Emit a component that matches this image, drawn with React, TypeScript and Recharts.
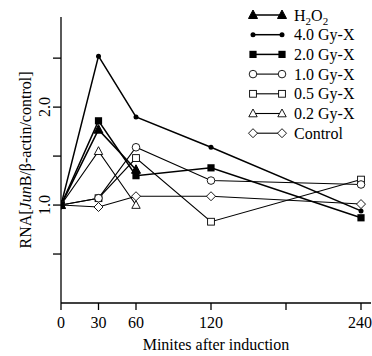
import React from "react"
import { Label, Legend, Line, LineChart, XAxis, YAxis } from "recharts"

// minutes after induction
const minutes = [0, 30, 60, 120, 240]

// RNA [JunB / beta-actin / control]
const h2o2 = [1.0, 1.77, 1.36, null, null]
const gy40 = [1.0, 2.52, 1.9, 1.59, 0.94]
const gy20 = [1.0, 1.86, 1.3, 1.38, 0.87]
const gy10 = [1.0, 1.07, 1.59, 1.25, 1.21]
const gy05 = [1.0, 1.07, 1.48, 0.83, 1.26]
const gy02 = [1.0, 1.55, 1.0, null, null]
const control = [1.0, 0.98, 1.09, 1.09, 1.01]

const xTicks = [0, 30, 60, 120, 180, 240]
const xLabels = ["0", "30", "60", "120", "", "240"]
const yTicks = [0.5, 1.0, 1.5, 2.0, 2.5]
const yLabels = ["", "1.0", "", "2.0", ""]

const FONT = "'Liberation Serif', 'Times New Roman', serif"

const data = minutes.map((m, i) => ({
  m,
  h2o2: h2o2[i],
  gy40: gy40[i],
  gy20: gy20[i],
  gy10: gy10[i],
  gy05: gy05[i],
  gy02: gy02[i],
  control: control[i],
}))

type Shape = "triFill" | "dot" | "sqFill" | "circ" | "sq" | "tri" | "diamond"

function Marker({ shape, cx, cy }: { shape: Shape; cx: number; cy: number }) {
  switch (shape) {
    case "triFill":
      return <polygon points={`${cx},${cy - 5} ${cx - 4.5},${cy + 3.5} ${cx + 4.5},${cy + 3.5}`} fill="#000" stroke="#000" />
    case "dot":
      return <circle cx={cx} cy={cy} r={2.5} fill="#000" />
    case "sqFill":
      return <rect x={cx - 3.6} y={cy - 3.6} width={7.2} height={7.2} fill="#000" />
    case "circ":
      return <circle cx={cx} cy={cy} r={3.8} fill="#fff" stroke="#000" strokeWidth={0.9} />
    case "sq":
      return <rect x={cx - 3.4} y={cy - 3.4} width={6.8} height={6.8} fill="#fff" stroke="#000" strokeWidth={0.9} />
    case "tri":
      return <polygon points={`${cx},${cy - 4.5} ${cx - 4.2},${cy + 3.3} ${cx + 4.2},${cy + 3.3}`} fill="#fff" stroke="#000" strokeWidth={0.9} />
    case "diamond":
      return <polygon points={`${cx},${cy - 4.5} ${cx + 4.5},${cy} ${cx},${cy + 4.5} ${cx - 4.5},${cy}`} fill="#fff" stroke="#000" strokeWidth={0.9} />
  }
  return null
}

const series: { key: string; shape: Shape; width: number; name: string }[] = [
  { key: "control", shape: "diamond", width: 1.1, name: "Control" },
  { key: "gy02", shape: "tri", width: 1.1, name: "0.2 Gy-X" },
  { key: "gy05", shape: "sq", width: 1.1, name: "0.5 Gy-X" },
  { key: "gy10", shape: "circ", width: 1.1, name: "1.0 Gy-X" },
  { key: "gy20", shape: "sqFill", width: 1.5, name: "2.0 Gy-X" },
  { key: "gy40", shape: "dot", width: 1.5, name: "4.0 Gy-X" },
  { key: "h2o2", shape: "triFill", width: 1.5, name: "H2O2" },
]

const legendOrder = ["h2o2", "gy40", "gy20", "gy10", "gy05", "gy02", "control"]

function LegendBox() {
  return (
    <svg width={132} height={145} style={{ display: "block" }}>
      {legendOrder.map((k, i) => {
        const s = series.find((x) => x.key === k)!
        const y = 15 + i * 19.7
        return (
          <g key={k}>
            <line x1={13} x2={42} y1={y} y2={y} stroke="#000" strokeWidth={s.width} />
            <Marker shape={s.shape} cx={13} cy={y} />
            <Marker shape={s.shape} cx={42} cy={y} />
            <text x={54} y={y + 5.5} fontFamily={FONT} fontSize={16} fill="#000">
              {k === "h2o2" ? (
                <>
                  H<tspan fontSize={11} dy={4}>2</tspan>
                  <tspan dy={-4}>O</tspan>
                  <tspan fontSize={11} dy={4}>2</tspan>
                </>
              ) : (
                s.name
              )}
            </text>
          </g>
        )
      })}
    </svg>
  )
}

function XTick(props: any) {
  const { x, payload } = props
  const i = xTicks.indexOf(payload.value)
  return (
    <text x={x} y={328} textAnchor="middle" fontFamily={FONT} fontSize={16} fill="#000">
      {xLabels[i]}
    </text>
  )
}

function YTick(props: any) {
  const { y, payload } = props
  const i = yTicks.indexOf(payload.value)
  return (
    <text x={50} y={y} transform={`rotate(-90, 50, ${y})`} textAnchor="middle" fontFamily={FONT} fontSize={16} fill="#000">
      {yLabels[i]}
    </text>
  )
}

export default function App() {
  return (
    <div style={{ position: "absolute", left: 0, top: 0, background: "#fff", fontFamily: FONT }}>
      <LineChart width={372} height={356} data={data} margin={{ top: 17, right: 1, left: 8, bottom: 0 }}>
        <XAxis
          dataKey="m"
          type="number"
          domain={[0, 248]}
          ticks={xTicks}
          allowDataOverflow
          height={53}
          tickSize={7}
          tick={<XTick />}
          axisLine={{ stroke: "#000", strokeWidth: 1.3 }}
          tickLine={{ stroke: "#000", strokeWidth: 1.3 }}
        >
          <Label
            content={() => (
              <text x={216} y={350} textAnchor="middle" style={{ fontFamily: FONT }} fontSize={16} fill="#000">
                Minites after induction
              </text>
            )}
          />
        </XAxis>
        <YAxis
          type="number"
          domain={[0, 2.92]}
          ticks={yTicks}
          allowDataOverflow
          width={53}
          tickSize={8}
          tick={<YTick />}
          axisLine={{ stroke: "#000", strokeWidth: 1.3 }}
          tickLine={{ stroke: "#000", strokeWidth: 1.3 }}
        >
          <Label
            content={() => (
              <text x={31} y={160} transform="rotate(-90, 31, 160)" textAnchor="middle" style={{ fontFamily: FONT }} fontSize={16} fill="#000">
                RNA[<tspan fontStyle="italic">Jun</tspan>B/β-actin/control]
              </text>
            )}
          />
        </YAxis>
        <Legend
          layout="horizontal"
          verticalAlign="middle"
          align="center"
          wrapperStyle={{ top: 0, left: 240, width: 132, height: 145 }}
          content={() => <LegendBox />}
        />
        {series.map((s) => (
          <Line
            key={s.key}
            dataKey={s.key}
            name={s.name}
            stroke="#000"
            strokeWidth={s.width}
            isAnimationActive={false}
            legendType="none"
            dot={(p: any) =>
              p.cx == null || p.cy == null || p.value == null ? (
                <g key={`${s.key}-${p.index}`} />
              ) : (
                <g key={`${s.key}-${p.index}`}>
                  <Marker shape={s.shape} cx={p.cx} cy={p.cy} />
                </g>
              )
            }
            activeDot={false}
          />
        ))}
      </LineChart>
    </div>
  )
}
